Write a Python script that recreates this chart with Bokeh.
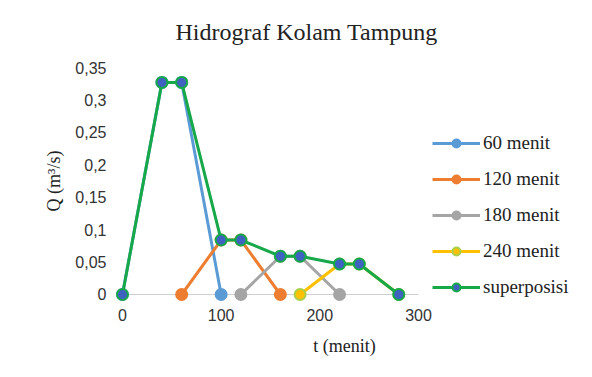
from bokeh.plotting import figure
from bokeh.models import Range1d, FixedTicker, Title
from bokeh.embed import file_html
from bokeh.resources import INLINE

# data
t60 = [0, 40, 60, 100]
q60 = [0, 0.327, 0.327, 0]
t120 = [60, 100, 120, 160]
q120 = [0, 0.084, 0.084, 0]
t180 = [120, 160, 180, 220]
q180 = [0, 0.059, 0.059, 0]
t240 = [180, 220, 240, 280]
q240 = [0, 0.047, 0.047, 0]
tsup = [0, 40, 60, 100, 120, 160, 180, 220, 240, 280]
qsup = [0, 0.327, 0.327, 0.084, 0.084, 0.059, 0.059, 0.047, 0.047, 0]

xticks = [0, 100, 200, 300]
yticks = [0, 0.05, 0.1, 0.15, 0.2, 0.25, 0.3, 0.35]
ylabels = ["0", "0,05", "0,1", "0,15", "0,2", "0,25", "0,3", "0,35"]

SERIF = "Liberation Serif"
SANS = "Liberation Sans"

p = figure(width=576, height=361, output_backend="svg", toolbar_location=None,
           x_range=Range1d(-10.1, 460.1), y_range=Range1d(-0.0108, 0.3608),
           min_border_left=112, min_border_right=0, min_border_top=60,
           min_border_bottom=60)
p.outline_line_color = None
p.xgrid.grid_line_color = None
p.ygrid.grid_line_color = None

title = Title(text="Hidrograf Kolam Tampung", align="left", offset=63,
              standoff=31,
              text_font=SERIF, text_font_size="24px", text_font_style="normal",
              text_color="#222222")
p.add_layout(title, "above")

p.xaxis.ticker = FixedTicker(ticks=xticks)
p.yaxis.ticker = FixedTicker(ticks=yticks)
p.yaxis.major_label_overrides = {v: s for v, s in zip(yticks, ylabels)}
for ax in (p.xaxis, p.yaxis):
    ax.axis_line_color = None
    ax.major_tick_line_color = None
    ax.minor_tick_line_color = None
    ax.major_label_text_font = SANS
    ax.major_label_text_font_size = "16px"
    ax.major_label_text_color = "#333333"
    ax.axis_label_text_font = SERIF
    ax.axis_label_text_font_style = "normal"
    ax.axis_label_text_color = "#222222"
    ax.axis_label_text_font_size = "18px"
p.xaxis.major_label_standoff = 1
p.yaxis.major_label_standoff = 0
p.xaxis.axis_label = "t (menit)"
p.yaxis.axis_label = "Q (m³/s)"
p.xaxis.axis_label_standoff = 12
p.yaxis.axis_label_standoff = 8

# x axis baseline (Excel category axis at Q = 0)
p.line(x=[xticks[0], xticks[-1]], y=[0, 0], line_color="#D0D0D0", line_width=1.2)

series = [
    (t60, q60, "60 menit", "#5B9BD5", "#5B9BD5", "#5B9BD5"),
    (t120, q120, "120 menit", "#ED7D31", "#ED7D31", "#ED7D31"),
    (t180, q180, "180 menit", "#A5A5A5", "#A5A5A5", "#A5A5A5"),
    (t240, q240, "240 menit", "#FFC000", "#FFC000", "#A8D04A"),
    (tsup, qsup, "superposisi", "#17A84A", "#3F62C0", "#17A84A"),
]
for xs, ys, lab, lc, fc, mc in series:
    p.line(x=xs, y=ys, line_color=lc, line_width=3, legend_label=lab)
    p.scatter(x=xs, y=ys, size=11, marker="circle", fill_color=fc,
              line_color=mc, line_width=2, legend_label=lab)

leg = p.legend[0]
leg.location = (320, 3)
leg.border_line_color = None
leg.background_fill_alpha = 0
leg.padding = 0
leg.margin = 0
leg.spacing = 14
leg.glyph_width = 48
leg.glyph_height = 20
leg.label_height = 20
leg.label_standoff = 3
leg.label_text_font = SERIF
leg.label_text_font_size = "19px"
leg.label_text_color = "#222222"

open("out.html", "w").write(file_html(p, INLINE))
